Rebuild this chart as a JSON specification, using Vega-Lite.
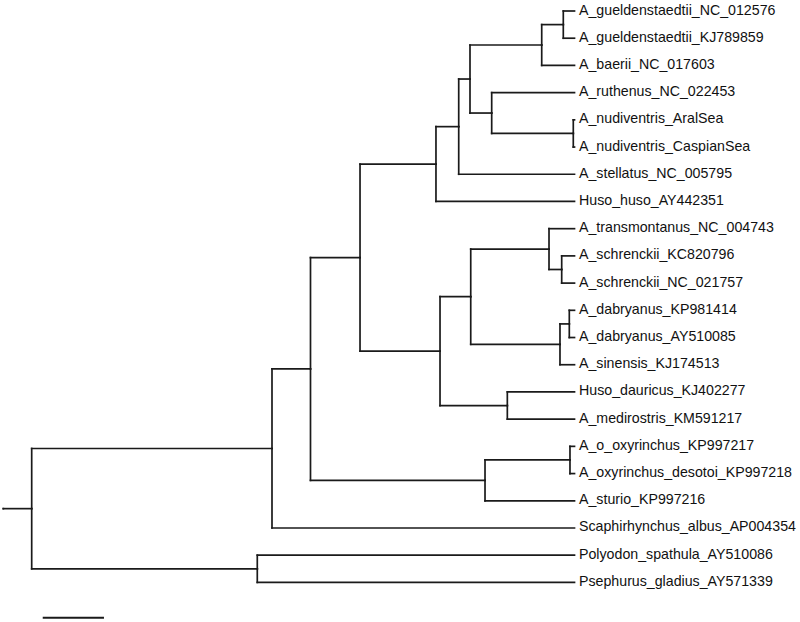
{
  "$schema": "https://vega.github.io/schema/vega-lite/v6.json",
  "width": 800,
  "height": 622,
  "padding": 0,
  "autosize": {"type": "fit", "contains": "padding"},
  "background": "white",
  "config": {"view": {"stroke": null}},
  "datasets": {
    "tree": [
      {"name": "origin", "parent": null, "dist": -0.00463, "pos": 18.289, "label": null},
      {"name": "root", "parent": "origin", "dist": 0, "pos": 18.289, "label": null},
      {"name": "A", "parent": "root", "dist": 0.0392, "pos": 16.078, "label": null},
      {"name": "U", "parent": "root", "dist": 0.0368, "pos": 20.5, "label": null},
      {"name": "B", "parent": "A", "dist": 0.04548, "pos": 13.156, "label": null},
      {"name": "C", "parent": "B", "dist": 0.05356, "pos": 9.0625, "label": null},
      {"name": "D", "parent": "C", "dist": 0.06595, "pos": 5.625, "label": null},
      {"name": "E", "parent": "D", "dist": 0.06966, "pos": 4.25, "label": null},
      {"name": "F", "parent": "E", "dist": 0.0715, "pos": 2.5, "label": null},
      {"name": "G", "parent": "F", "dist": 0.0832, "pos": 1.25, "label": null},
      {"name": "H", "parent": "G", "dist": 0.08672, "pos": 0.5, "label": null},
      {"name": "I", "parent": "F", "dist": 0.07504, "pos": 3.75, "label": null},
      {"name": "J", "parent": "I", "dist": 0.08835, "pos": 4.5, "label": null},
      {"name": "K", "parent": "C", "dist": 0.06661, "pos": 12.5, "label": null},
      {"name": "L", "parent": "K", "dist": 0.07162, "pos": 10.5, "label": null},
      {"name": "M", "parent": "L", "dist": 0.08439, "pos": 8.75, "label": null},
      {"name": "N", "parent": "M", "dist": 0.08646, "pos": 9.5, "label": null},
      {"name": "O", "parent": "L", "dist": 0.08618, "pos": 12.25, "label": null},
      {"name": "P", "parent": "O", "dist": 0.0877, "pos": 11.5, "label": null},
      {"name": "Q", "parent": "K", "dist": 0.07759, "pos": 14.5, "label": null},
      {"name": "S", "parent": "B", "dist": 0.07395, "pos": 17.25, "label": null},
      {"name": "T", "parent": "S", "dist": 0.08781, "pos": 16.5, "label": null},
      {"name": "l0", "parent": "H", "dist": 0.08855, "pos": 0, "label": "A_gueldenstaedtii_NC_012576"},
      {"name": "l1", "parent": "H", "dist": 0.08855, "pos": 1, "label": "A_gueldenstaedtii_KJ789859"},
      {"name": "l2", "parent": "G", "dist": 0.08855, "pos": 2, "label": "A_baerii_NC_017603"},
      {"name": "l3", "parent": "I", "dist": 0.08855, "pos": 3, "label": "A_ruthenus_NC_022453"},
      {"name": "l4", "parent": "J", "dist": 0.08855, "pos": 4, "label": "A_nudiventris_AralSea"},
      {"name": "l5", "parent": "J", "dist": 0.08855, "pos": 5, "label": "A_nudiventris_CaspianSea"},
      {"name": "l6", "parent": "E", "dist": 0.08855, "pos": 6, "label": "A_stellatus_NC_005795"},
      {"name": "l7", "parent": "D", "dist": 0.08855, "pos": 7, "label": "Huso_huso_AY442351"},
      {"name": "l8", "parent": "M", "dist": 0.08855, "pos": 8, "label": "A_transmontanus_NC_004743"},
      {"name": "l9", "parent": "N", "dist": 0.08855, "pos": 9, "label": "A_schrenckii_KC820796"},
      {"name": "l10", "parent": "N", "dist": 0.08855, "pos": 10, "label": "A_schrenckii_NC_021757"},
      {"name": "l11", "parent": "P", "dist": 0.08855, "pos": 11, "label": "A_dabryanus_KP981414"},
      {"name": "l12", "parent": "P", "dist": 0.08855, "pos": 12, "label": "A_dabryanus_AY510085"},
      {"name": "l13", "parent": "O", "dist": 0.08855, "pos": 13, "label": "A_sinensis_KJ174513"},
      {"name": "l14", "parent": "Q", "dist": 0.08855, "pos": 14, "label": "Huso_dauricus_KJ402277"},
      {"name": "l15", "parent": "Q", "dist": 0.08855, "pos": 15, "label": "A_medirostris_KM591217"},
      {"name": "l16", "parent": "T", "dist": 0.08855, "pos": 16, "label": "A_o_oxyrinchus_KP997217"},
      {"name": "l17", "parent": "T", "dist": 0.08855, "pos": 17, "label": "A_oxyrinchus_desotoi_KP997218"},
      {"name": "l18", "parent": "S", "dist": 0.08855, "pos": 18, "label": "A_sturio_KP997216"},
      {"name": "l19", "parent": "A", "dist": 0.08855, "pos": 19, "label": "Scaphirhynchus_albus_AP004354"},
      {"name": "l20", "parent": "U", "dist": 0.08855, "pos": 20, "label": "Polyodon_spathula_AY510086"},
      {"name": "l21", "parent": "U", "dist": 0.08855, "pos": 21, "label": "Psephurus_gladius_AY571339"}
    ],
    "scalebar": [
      {"from": 0.0018, "to": 0.01179, "at": 22.3}
    ]
  },
  "layer": [
    {
      "data": {"name": "tree"},
      "transform": [
        {"filter": "datum.parent != null"},
        {"lookup": "parent", "from": {"data": {"name": "tree"}, "key": "name", "fields": ["dist", "pos"]}, "as": ["pdist", "ppos"]}
      ],
      "mark": {"type": "rule", "color": "#1a1a1a", "strokeWidth": 1.7, "strokeCap": "square"},
      "encoding": {
        "x": {"field": "pdist", "type": "quantitative", "axis": null, "scale": {"domain": [-0.005171, 0.125334], "nice": false, "zero": false}},
        "x2": {"field": "dist"},
        "y": {"field": "pos", "type": "quantitative", "axis": null, "scale": {"domain": [-0.4043, 22.455], "nice": false, "zero": false, "reverse": true}}
      }
    },
    {
      "data": {"name": "tree"},
      "transform": [
        {"filter": "datum.parent != null"},
        {"lookup": "parent", "from": {"data": {"name": "tree"}, "key": "name", "fields": ["dist", "pos"]}, "as": ["pdist", "ppos"]}
      ],
      "mark": {"type": "rule", "color": "#1a1a1a", "strokeWidth": 1.7, "strokeCap": "square"},
      "encoding": {
        "x": {"field": "pdist", "type": "quantitative", "axis": null, "scale": {"domain": [-0.005171, 0.125334], "nice": false, "zero": false}},
        "y": {"field": "ppos", "type": "quantitative", "axis": null, "scale": {"domain": [-0.4043, 22.455], "nice": false, "zero": false, "reverse": true}},
        "y2": {"field": "pos"}
      }
    },
    {
      "data": {"name": "tree"},
      "transform": [{"filter": "datum.label != null"}],
      "mark": {"type": "text", "align": "left", "baseline": "middle", "dx": 4.5, "dy": -0.5, "font": "Liberation Sans", "fontSize": 14.2, "color": "#111111"},
      "encoding": {
        "x": {"field": "dist", "type": "quantitative", "axis": null, "scale": {"domain": [-0.005171, 0.125334], "nice": false, "zero": false}},
        "y": {"field": "pos", "type": "quantitative", "axis": null, "scale": {"domain": [-0.4043, 22.455], "nice": false, "zero": false, "reverse": true}},
        "text": {"field": "label"}
      }
    },
    {
      "data": {"name": "scalebar"},
      "mark": {"type": "rule", "color": "#1a1a1a", "strokeWidth": 1.9},
      "encoding": {
        "x": {"field": "from", "type": "quantitative", "axis": null, "scale": {"domain": [-0.005171, 0.125334], "nice": false, "zero": false}},
        "x2": {"field": "to"},
        "y": {"field": "at", "type": "quantitative", "axis": null, "scale": {"domain": [-0.4043, 22.455], "nice": false, "zero": false, "reverse": true}}
      }
    }
  ]
}
